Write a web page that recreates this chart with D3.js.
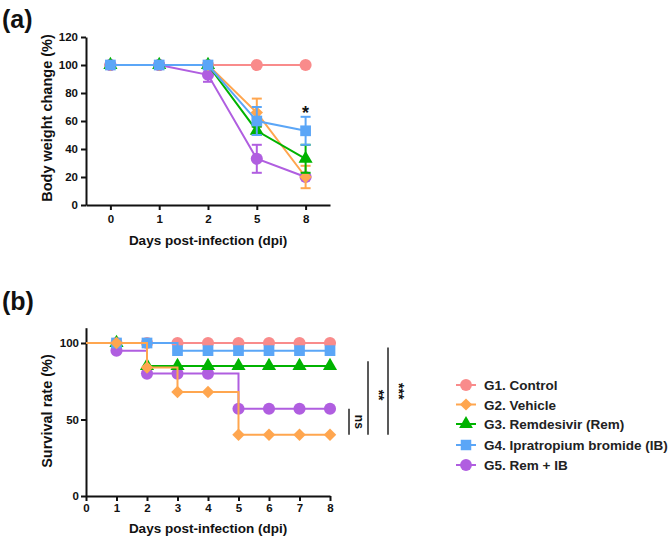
<!DOCTYPE html>
<html>
<head>
<meta charset="utf-8">
<script src="https://cdn.jsdelivr.net/npm/d3@7"></script>
<style>
  body { margin: 0; background: #fff; }
  text { font-family: "Liberation Sans", Arial, sans-serif; }
</style>
</head>
<body>
<div id="container"></div>
<script>
'use strict'

// ---- data ----
const groups = ['G1. Control', 'G2. Vehicle', 'G3. Remdesivir (Rem)', 'G4. Ipratropium bromide (IB)', 'G5. Rem + IB'];
const colors = ['#f98b8b', '#ffa64f', '#00b300', '#5ba6f7', '#b05ee0'];
const shapes = ['circle', 'diamond', 'triangle', 'square', 'circle'];

// panel (a) body weight
const weightDays = ['0', '1', '2', '5', '8'];
const weightMean = [
  [100, 100, 100, 100, 100],
  [100, 100, 100, 66, 20],
  [100, 100, 100, 53, 33],
  [100, 100, 100, 60, 53],
  [100, 100, 93, 33, 20]
];
const weightErr = [
  [0, 0, 0, 0, 0],
  [0, 0, 0, 10, 8],
  [0, 0, 0, 3, 10],
  [0, 0, 0, 10, 10],
  [0, 0, 5, 10, 0]
];
const weightYTicks = [0, 20, 40, 60, 80, 100, 120];

// panel (b) survival (value at each day 0..8)
const survDays = [0, 1, 2, 3, 4, 5, 6, 7, 8];
const survival = [
  [100, 100, 100, 100, 100, 100, 100, 100, 100],
  [100, 100, 84, 68, 68, 40, 40, 40, 40],
  [100, 100, 85, 85, 85, 85, 85, 85, 85],
  [100, 100, 100, 95, 95, 95, 95, 95, 95],
  [100, 95, 80, 80, 80, 57, 57, 57, 57]
];
const survYTicks = [0, 50, 100];
const sigLabels = ['ns', '**', '***'];
const sigTop = [57, 88, 97];
const sigBottom = 40;

// ---- drawing ----
const W = 669, H = 537;
const svg = d3.select('#container').append('svg').attr('width', W).attr('height', H);

function sym(shape, size) {
  if (shape === 'circle') return d3.symbol(d3.symbolCircle, size)();
  if (shape === 'triangle') return d3.symbol(d3.symbolTriangle, size * 0.75)();
  if (shape === 'square') return d3.symbol(d3.symbolSquare, size)();
  // diamond = square turned 45deg
  const r = Math.sqrt(size) * 0.58;
  return `M0,${-r}L${r},0L0,${r}L${-r},0Z`;
}

function styleAxis(g) {
  g.select('.domain').attr('stroke', '#111').attr('stroke-width', 2);
  g.selectAll('.tick line').attr('stroke', '#111').attr('stroke-width', 2);
  g.selectAll('.tick text').attr('fill', '#111')
    .style('font-size', '11.5px').style('font-weight', 'bold')
    .style('font-family', '"Liberation Sans", Arial, sans-serif');
}

// ===== panel (a) =====
const xA = d3.scalePoint().domain(weightDays).range([86, 330]).padding(0.5);
const yA = d3.scaleLinear().domain([0, 120]).range([205, 37]);

svg.append('text').text('(a)').attr('x', 2).attr('y', 28)
  .style('font-size', '25px').style('font-weight', 'bold').attr('fill', '#111');

svg.append('g').attr('transform', 'translate(86,0)')
  .call(d3.axisLeft(yA).tickValues(weightYTicks).tickSize(5).tickSizeOuter(0).tickPadding(3))
  .call(styleAxis);
svg.append('g').attr('transform', 'translate(0,205)')
  .call(d3.axisBottom(xA).tickSize(5).tickSizeOuter(0).tickPadding(5))
  .call(styleAxis);

svg.append('text').text('Body weight change (%)')
  .attr('transform', 'translate(52,118) rotate(-90)')
  .attr('text-anchor', 'middle')
  .style('font-size', '14.5px').style('font-weight', 'bold').attr('fill', '#111');
svg.append('text').text('Days post-infection (dpi)')
  .attr('x', 208).attr('y', 245).attr('text-anchor', 'middle')
  .style('font-size', '13.5px').style('font-weight', 'bold').attr('fill', '#111');

const orderA = [0, 4, 1, 2, 3];
const lineA = d3.line().x((d, i) => xA(weightDays[i])).y(d => yA(d));
orderA.forEach(function(gi) {
  const g = svg.append('g');
  g.append('path').attr('d', lineA(weightMean[gi]))
    .attr('fill', 'none').attr('stroke', colors[gi]).attr('stroke-width', 2);
  weightMean[gi].forEach(function(v, i) {
    const e = weightErr[gi][i];
    const x = xA(weightDays[i]);
    if (e > 0) {
      g.append('line').attr('x1', x).attr('x2', x).attr('y1', yA(v - e)).attr('y2', yA(v + e))
        .attr('stroke', colors[gi]).attr('stroke-width', 2);
      [v - e, v + e].forEach(function(c) {
        g.append('line').attr('x1', x - 5).attr('x2', x + 5).attr('y1', yA(c)).attr('y2', yA(c))
          .attr('stroke', colors[gi]).attr('stroke-width', 2);
      });
    }
    g.append('path').attr('d', sym(shapes[gi], 115))
      .attr('transform', `translate(${x},${yA(v)})`).attr('fill', colors[gi]);
  });
});

svg.append('text').text('*').attr('x', xA('8')).attr('y', yA(64) + 4)
  .attr('text-anchor', 'middle')
  .style('font-size', '18px').style('font-weight', 'bold').attr('fill', '#111');

// ===== panel (b) =====
const xB = d3.scaleLinear().domain([0, 8]).range([86, 330]);
const yB = d3.scaleLinear().domain([0, 110]).range([496, 327.7]);

svg.append('text').text('(b)').attr('x', 2).attr('y', 310)
  .style('font-size', '25px').style('font-weight', 'bold').attr('fill', '#111');

svg.append('g').attr('transform', 'translate(86,0)')
  .call(d3.axisLeft(yB).tickValues(survYTicks).tickSize(5).tickSizeOuter(0).tickPadding(2))
  .call(styleAxis);
svg.append('g').attr('transform', 'translate(0,496)')
  .call(d3.axisBottom(xB).tickValues(survDays).tickSize(5).tickSizeOuter(0).tickPadding(3))
  .call(styleAxis);

svg.append('text').text('Survival rate (%)')
  .attr('transform', 'translate(52,411) rotate(-90)')
  .attr('text-anchor', 'middle')
  .style('font-size', '14.5px').style('font-weight', 'bold').attr('fill', '#111');
svg.append('text').text('Days post-infection (dpi)')
  .attr('x', 208).attr('y', 533).attr('text-anchor', 'middle')
  .style('font-size', '13.5px').style('font-weight', 'bold').attr('fill', '#111');

const orderB = [0, 4, 2, 3, 1];
const stepB = d3.line().curve(d3.curveStepAfter).x((d, i) => xB(survDays[i])).y(d => yB(d));
orderB.forEach(function(gi) {
  const g = svg.append('g');
  g.append('path').attr('d', stepB(survival[gi]))
    .attr('fill', 'none').attr('stroke', colors[gi]).attr('stroke-width', 2);
  survival[gi].forEach(function(v, i) {
    if (i === 0) return;
    g.append('path').attr('d', sym(shapes[gi], 115))
      .attr('transform', `translate(${xB(survDays[i])},${yB(v)})`).attr('fill', colors[gi]);
  });
});

// significance bars
const sigX = [349, 368, 388];
sigLabels.forEach(function(lab, i) {
  svg.append('line').attr('x1', sigX[i]).attr('x2', sigX[i])
    .attr('y1', yB(sigTop[i])).attr('y2', yB(sigBottom))
    .attr('stroke', '#222').attr('stroke-width', 1.5);
  const cy = (yB(sigTop[i]) + yB(sigBottom)) / 2 - (i === 1 ? 3 : 0);
  svg.append('text').text(lab)
    .attr('transform', `translate(${sigX[i] + 6},${cy}) rotate(90)`)
    .attr('text-anchor', 'middle')
    .style('font-size', lab === 'ns' ? '12px' : '14px').style('font-weight', 'bold').attr('fill', '#111');
});

// legend
const legY = [385, 404.5, 424, 445, 465];
groups.forEach(function(name, i) {
  const g = svg.append('g').attr('transform', `translate(466,${legY[i]})`);
  g.append('line').attr('x1', -10).attr('x2', 10).attr('stroke', colors[i]).attr('stroke-width', 2);
  g.append('path').attr('d', sym(shapes[i], 110)).attr('fill', colors[i]);
  g.append('text').text(name).attr('x', 18).attr('y', 5)
    .style('font-size', '13.5px').style('font-weight', 'bold').attr('fill', '#222');
});
</script>
</body>
</html>
